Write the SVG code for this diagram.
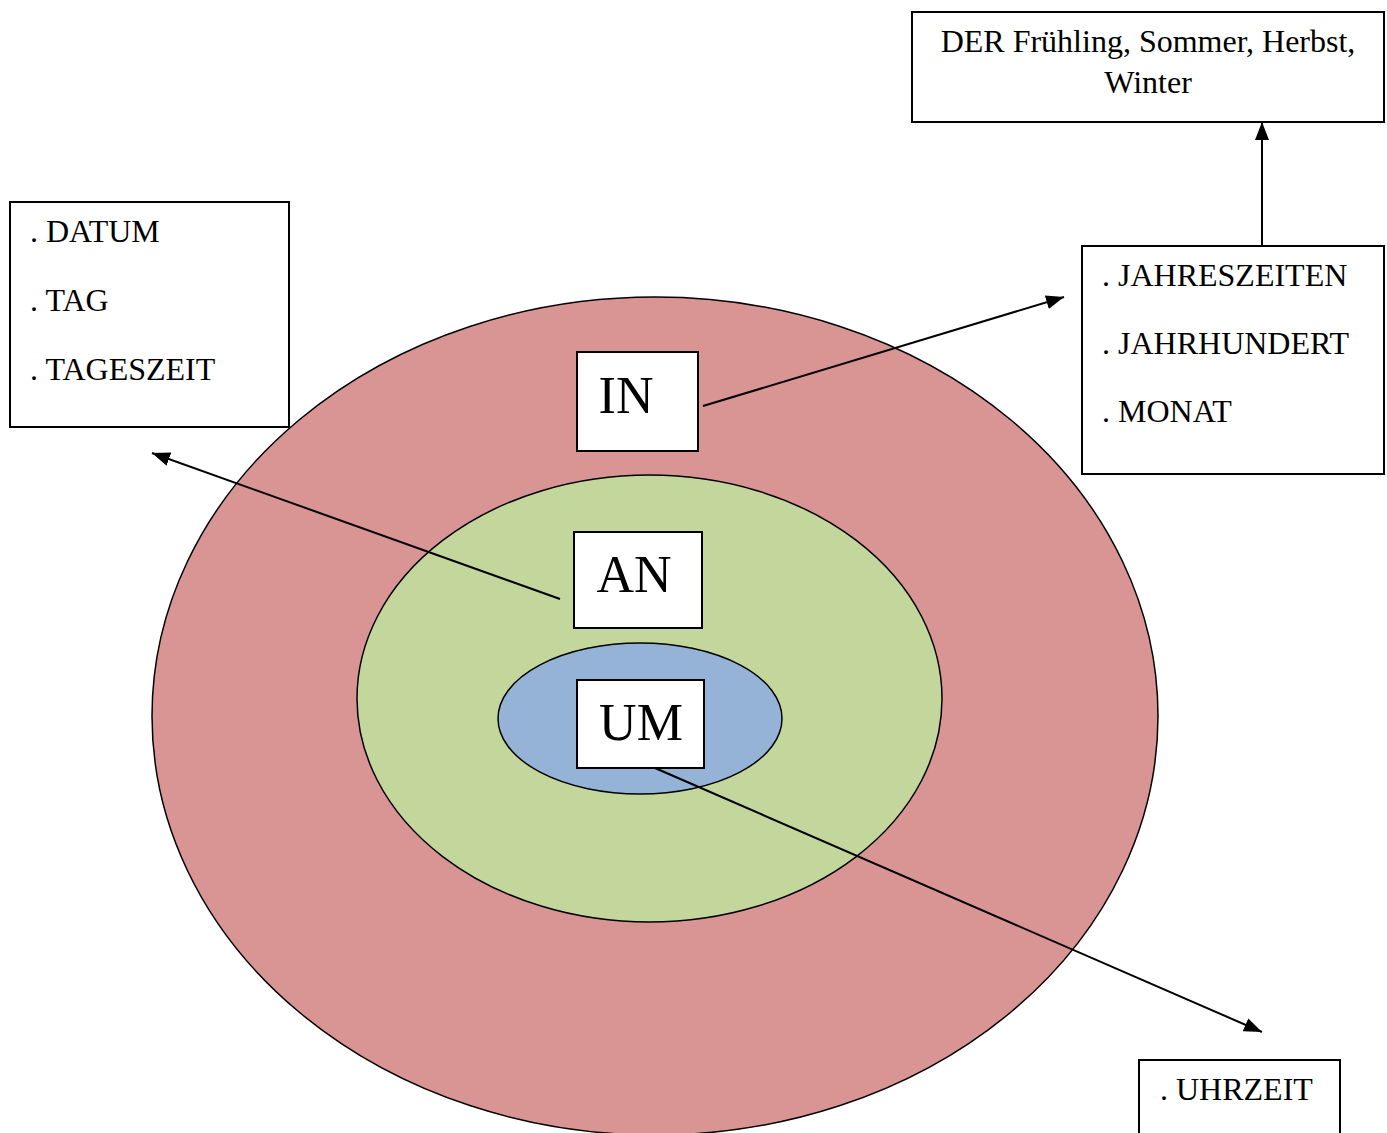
<svg xmlns="http://www.w3.org/2000/svg" width="1387" height="1133" viewBox="0 0 1387 1133">
<defs>
<style>
.box{fill:#fff;stroke:#000;stroke-width:2}
.t{font-family:"Liberation Serif","Times New Roman",serif;font-size:32px;fill:#000}
.big{font-family:"Liberation Serif","Times New Roman",serif;font-size:52px;fill:#000}
.ell{stroke:#000;stroke-width:1.5}
.con{stroke:#000;stroke-width:2;fill:none;marker-end:url(#ah)}
</style>
<marker id="ah" viewBox="0 0 10 10" refX="10" refY="5" markerWidth="9" markerHeight="7" orient="auto" markerUnits="strokeWidth" preserveAspectRatio="none">
<path d="M0,0 L10,5 L0,10 z" fill="#000"/>
</marker>
</defs>
<rect width="1387" height="1133" fill="#fff"/>
<g id="ellipses">
<ellipse class="ell" cx="655" cy="716" rx="503" ry="419" fill="#d99594"/>
<ellipse class="ell" cx="649.5" cy="698.5" rx="292.5" ry="223.5" fill="#c3d69b"/>
<ellipse class="ell" cx="640" cy="718.5" rx="142" ry="75.5" fill="#95b3d7"/>
</g>
<g id="node-in"><rect class="box" x="577" y="352" width="121" height="99"/><text class="big" x="626" y="413" text-anchor="middle">IN</text></g>
<g id="node-an"><rect class="box" x="574" y="532" width="128" height="96"/><text class="big" x="634" y="592" text-anchor="middle">AN</text></g>
<g id="node-um"><rect class="box" x="577" y="680" width="127" height="88"/><text class="big" x="641" y="740" text-anchor="middle">UM</text></g>
<g id="node-seasons"><rect class="box" x="912" y="12" width="472" height="110"/><text class="t" x="1148" y="52" text-anchor="middle">DER Frühling, Sommer, Herbst,</text><text class="t" x="1148" y="93" text-anchor="middle">Winter</text></g>
<g id="node-datum"><rect class="box" x="10" y="202" width="279" height="225"/><text class="t" x="30" y="242">. DATUM</text><text class="t" x="30" y="311">. TAG</text><text class="t" x="30" y="380">. TAGESZEIT</text></g>
<g id="node-jahr"><rect class="box" x="1082" y="246" width="302" height="228"/><text class="t" x="1102" y="286">. JAHRESZEITEN</text><text class="t" x="1102" y="354">. JAHRHUNDERT</text><text class="t" x="1102" y="422">. MONAT</text></g>
<g id="node-uhrzeit"><rect class="box" x="1139" y="1060" width="201" height="74"/><text class="t" x="1160" y="1100">. UHRZEIT</text></g>
<g id="connectors">
<line class="con" x1="703" y1="406" x2="1064" y2="297"/>
<line class="con" x1="560" y1="599" x2="152" y2="453"/>
<line class="con" x1="655" y1="768" x2="1262" y2="1032"/>
<line class="con" x1="1262" y1="246" x2="1262" y2="122"/>
</g>
</svg>
